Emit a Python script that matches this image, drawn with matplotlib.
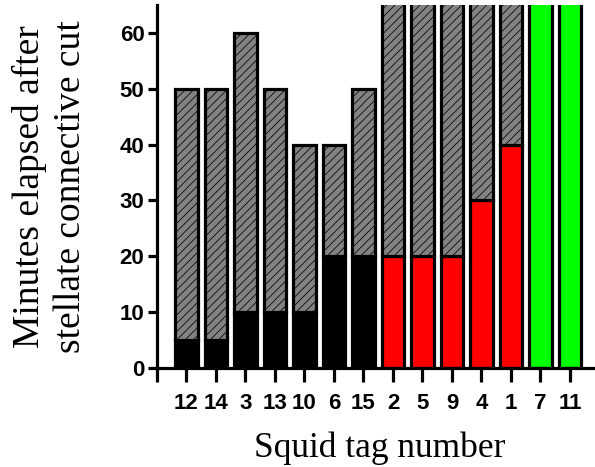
import matplotlib.pyplot as plt
import numpy as np

# Squid tags in plotted order
tags = ['12', '14', '3', '13', '10', '6', '15', '2', '5', '9', '4', '1', '7', '11']
# minutes until the coloured state (bottom segment)
onset = [5, 5, 10, 10, 10, 20, 20, 20, 20, 20, 30, 40, 120, 120]
# total observation time (top of hatched segment); >65 are off scale
total = [50, 50, 60, 50, 40, 40, 50, 120, 120, 120, 120, 120, 120, 120]
group = ['black'] * 7 + ['red'] * 5 + ['green'] * 2

colors = {'black': '#000000', 'red': '#ff0000', 'green': '#00ff00'}

plt.rcParams['hatch.linewidth'] = 0.55

fig = plt.figure(figsize=(5.95, 4.67), dpi=100)
ax = fig.add_axes([157 / 595, 99 / 467, (595 - 157) / 595, (368 - 5) / 467])

x = np.arange(len(tags))
onset = np.array(onset)
total = np.array(total)
lw = 2.3
ax.bar(x, onset, width=0.77, color=[colors[g] for g in group],
       edgecolor='black', linewidth=lw, zorder=2)
ax.bar(x, total - onset, bottom=onset, width=0.77, color='#828282',
       hatch='////', edgecolor='black', linewidth=lw, zorder=2)

ax.set_xlim(-1.0, 13.85)
ax.set_ylim(0, 65)

for s in ['top', 'right']:
    ax.spines[s].set_visible(False)
for s in ['left', 'bottom']:
    ax.spines[s].set_linewidth(lw)
    ax.spines[s].set_zorder(3)

ax.set_yticks([0, 10, 20, 30, 40, 50, 60])
ax.set_xticks(x)
ax.set_xticklabels(tags)
ax.set_xticks([-1.0], minor=True)
ax.tick_params(axis='y', direction='out', length=6.5, width=lw, pad=2.5)
ax.tick_params(axis='x', which='both', direction='out', length=10, width=lw, pad=8)
for lab in ax.get_xticklabels() + ax.get_yticklabels():
    lab.set_fontfamily('Liberation Sans')
    lab.set_fontweight('bold')
    lab.set_fontsize(16)

fig.text(50 / 595, 0.6, 'Minutes elapsed after\nstellate connective cut',
         rotation=90, ha='center', va='center', family='Liberation Serif',
         fontsize=27, linespacing=1.22)
fig.text(380 / 595, 10 / 467, 'Squid tag number', ha='center',
         va='baseline', family='Liberation Serif', fontsize=25.5)

fig.savefig('out.png', dpi=100)
